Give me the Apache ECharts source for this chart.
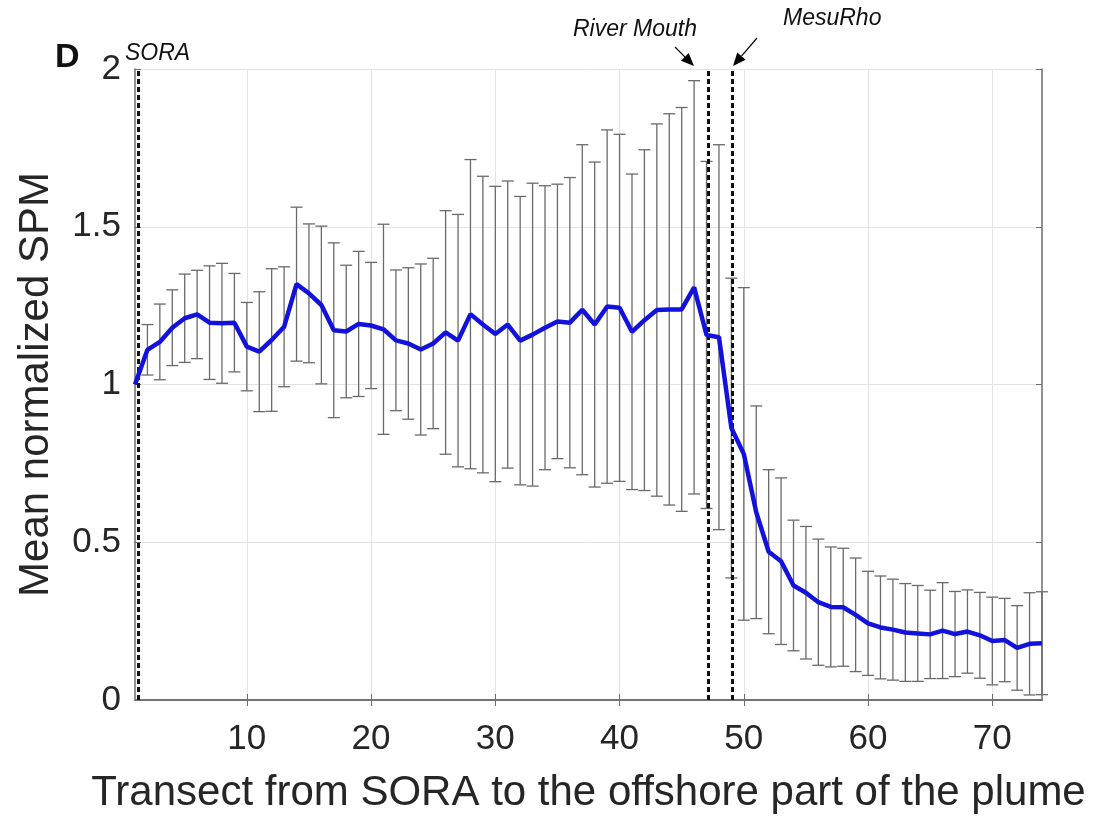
<!DOCTYPE html>
<html><head><meta charset="utf-8">
<script src="https://cdn.jsdelivr.net/npm/echarts@6/dist/echarts.min.js"></script>
<style>html,body{margin:0;padding:0;background:#fff}#c{width:1101px;height:822px}</style>
</head><body><div id="c"></div>
<script>
// ---- data ----
const transect = [1,2,3,4,5,6,7,8,9,10,11,12,13,14,15,16,17,18,19,20,21,22,23,24,25,26,27,28,29,30,31,32,33,34,35,36,37,38,39,40,41,42,43,44,45,46,47,48,49,50,51,52,53,54,55,56,57,58,59,60,61,62,63,64,65,66,67,68,69,70,71,72,73,74];
const meanSPM = [1.00,1.11,1.135,1.18,1.21,1.222,1.196,1.194,1.196,1.12,1.104,1.141,1.183,1.318,1.289,1.252,1.172,1.168,1.192,1.187,
  1.175,1.14,1.13,1.111,1.13,1.165,1.139,1.223,1.19,1.16,1.19,1.139,1.158,1.18,1.2,1.196,1.237,1.19,1.247,1.243,
  1.167,1.204,1.236,1.238,1.238,1.308,1.157,1.15,0.862,0.78,0.595,0.47,0.44,0.363,0.34,0.31,0.295,0.294,0.27,0.243,
  0.23,0.223,0.214,0.211,0.208,0.22,0.209,0.217,0.205,0.187,0.19,0.165,0.178,0.18];
const stdSPM = [0,0.08,0.12,0.12,0.14,0.14,0.18,0.19,0.156,0.14,0.19,0.226,0.19,0.244,0.22,0.25,0.277,0.21,0.23,0.2,
  0.333,0.223,0.24,0.271,0.27,0.386,0.40,0.49,0.47,0.468,0.455,0.457,0.48,0.45,0.435,0.46,0.523,0.515,0.56,0.55,
  0.50,0.54,0.59,0.62,0.64,0.655,0.55,0.61,0.475,0.527,0.337,0.26,0.264,0.207,0.21,0.2,0.19,0.187,0.18,0.165,
  0.163,0.16,0.155,0.152,0.14,0.152,0.135,0.132,0.136,0.139,0.132,0.134,0.162,0.163];
const xTickValues = [10,20,30,40,50,60,70];
const markerNames = ['SORA','River Mouth','MesuRho'];
const markerX = [1.3, 47.1, 49.1];
const xTitle = 'Transect from SORA to the offshore part of the plume';
const yTitle = 'Mean normalized SPM';
const panelLabel = 'D';

// ---- build ----
const meanData = transect.map((x, i) => [x, meanSPM[i]]);
const errData = transect.map((x, i) => [x, meanSPM[i] - stdSPM[i], meanSPM[i] + stdSPM[i], stdSPM[i]]);
const FONT = '"Liberation Sans", Arial, Helvetica, sans-serif';
const axisColor = '#6e6e6e';
const gridColor = '#e3e3e3';

const chart = echarts.init(document.getElementById('c'), null, {renderer: 'canvas'});

function arrow(x1, y1, x2, y2) {
  const dx = x2 - x1, dy = y2 - y1, L = Math.hypot(dx, dy);
  const ux = dx / L, uy = dy / L, hl = 13, hw = 5.5;
  const bx = x2 - ux * hl, by = y2 - uy * hl;
  return [
    {type: 'line', shape: {x1: x1, y1: y1, x2: bx, y2: by}, style: {stroke: '#000', lineWidth: 1.2}, z: 100},
    {type: 'polygon', shape: {points: [[x2, y2], [bx - uy * hw, by + ux * hw], [bx + uy * hw, by - ux * hw]]}, style: {fill: '#000'}, z: 100}
  ];
}

const textStyleItalic = {font: 'italic 23px ' + FONT, fill: '#111', textVerticalAlign: 'top'};

chart.setOption({
  animation: false,
  backgroundColor: '#fff',
  grid: {left: 135, right: 59, top: 69, bottom: 122, containLabel: false},
  xAxis: [{
    type: 'value', min: 1, max: 74, position: 'bottom',
    name: xTitle, nameLocation: 'middle', nameGap: 72,
    nameTextStyle: {fontSize: 42, fontFamily: FONT, color: '#262626'},
    axisLine: {show: true, lineStyle: {color: axisColor, width: 1.5}},
    axisTick: {show: true, inside: true, length: 6, customValues: xTickValues, lineStyle: {color: axisColor}},
    axisLabel: {customValues: xTickValues, fontSize: 35, fontFamily: FONT, color: '#262626', margin: 22},
    splitLine: {show: true, lineStyle: {color: gridColor, width: 1}}
  }, {
    type: 'value', min: 1, max: 74, position: 'top',
    axisLine: {show: true, lineStyle: {color: axisColor, width: 1.5}},
    axisTick: {show: true, inside: true, length: 6, customValues: xTickValues, lineStyle: {color: axisColor}},
    axisLabel: {show: false},
    splitLine: {show: false}
  }],
  yAxis: [{
    type: 'value', min: 0, max: 2, interval: 0.5, position: 'left',
    name: yTitle, nameLocation: 'middle', nameGap: 78, nameRotate: 90,
    nameTextStyle: {fontSize: 42, fontFamily: FONT, color: '#262626'},
    axisLine: {show: true, lineStyle: {color: axisColor, width: 1.5}},
    axisTick: {show: true, inside: true, length: 6, lineStyle: {color: axisColor}},
    axisLabel: {fontSize: 35, fontFamily: FONT, color: '#262626', margin: 14},
    splitLine: {show: true, lineStyle: {color: gridColor, width: 1}}
  }, {
    type: 'value', min: 0, max: 2, interval: 0.5, position: 'right',
    axisLine: {show: true, lineStyle: {color: axisColor, width: 1.5}},
    axisTick: {show: true, inside: true, length: 6, lineStyle: {color: axisColor}},
    axisLabel: {show: false},
    splitLine: {show: false}
  }],
  series: [{
    type: 'custom',
    name: 'std',
    xAxisIndex: 0, yAxisIndex: 0,
    data: errData,
    encode: {x: 0, y: [1, 2]},
    z: 2,
    renderItem: function (params, api) {
      if (api.value(3) <= 0) return null;
      const x = api.value(0);
      const pLo = api.coord([x, api.value(1)]);
      const pHi = api.coord([x, api.value(2)]);
      const w = 6;
      const st = {stroke: '#6a6a6a', lineWidth: 1.3, fill: null};
      return {type: 'group', children: [
        {type: 'line', shape: {x1: pLo[0], y1: pLo[1], x2: pHi[0], y2: pHi[1]}, style: st},
        {type: 'line', shape: {x1: pLo[0] - w, y1: pLo[1], x2: pLo[0] + w, y2: pLo[1]}, style: st},
        {type: 'line', shape: {x1: pHi[0] - w, y1: pHi[1], x2: pHi[0] + w, y2: pHi[1]}, style: st}
      ]};
    },
    markLine: {
      silent: true, symbol: ['none', 'none'],
      label: {show: false},
      lineStyle: {color: '#111', width: 3, type: [5, 3]},
      data: markerX.map(v => ({xAxis: v}))
    }
  }, {
    type: 'line',
    name: 'mean',
    xAxisIndex: 0, yAxisIndex: 0,
    data: meanData,
    symbol: 'none',
    z: 5,
    lineStyle: {color: '#1212dc', width: 4.5}
  }],
  graphic: [
    {type: 'text', x: 55, y: 41, style: {text: panelLabel, font: 'bold 34px ' + FONT, fill: '#111', textVerticalAlign: 'top'}},
    {type: 'text', x: 125, y: 42, style: Object.assign({text: markerNames[0]}, textStyleItalic)},
    {type: 'text', x: 573, y: 18, style: Object.assign({text: markerNames[1]}, textStyleItalic)},
    {type: 'text', x: 783, y: 7, style: Object.assign({text: markerNames[2]}, textStyleItalic)}
  ].concat(arrow(675, 47, 694, 66), arrow(757, 38, 733, 66))
});
</script>
</body></html>
